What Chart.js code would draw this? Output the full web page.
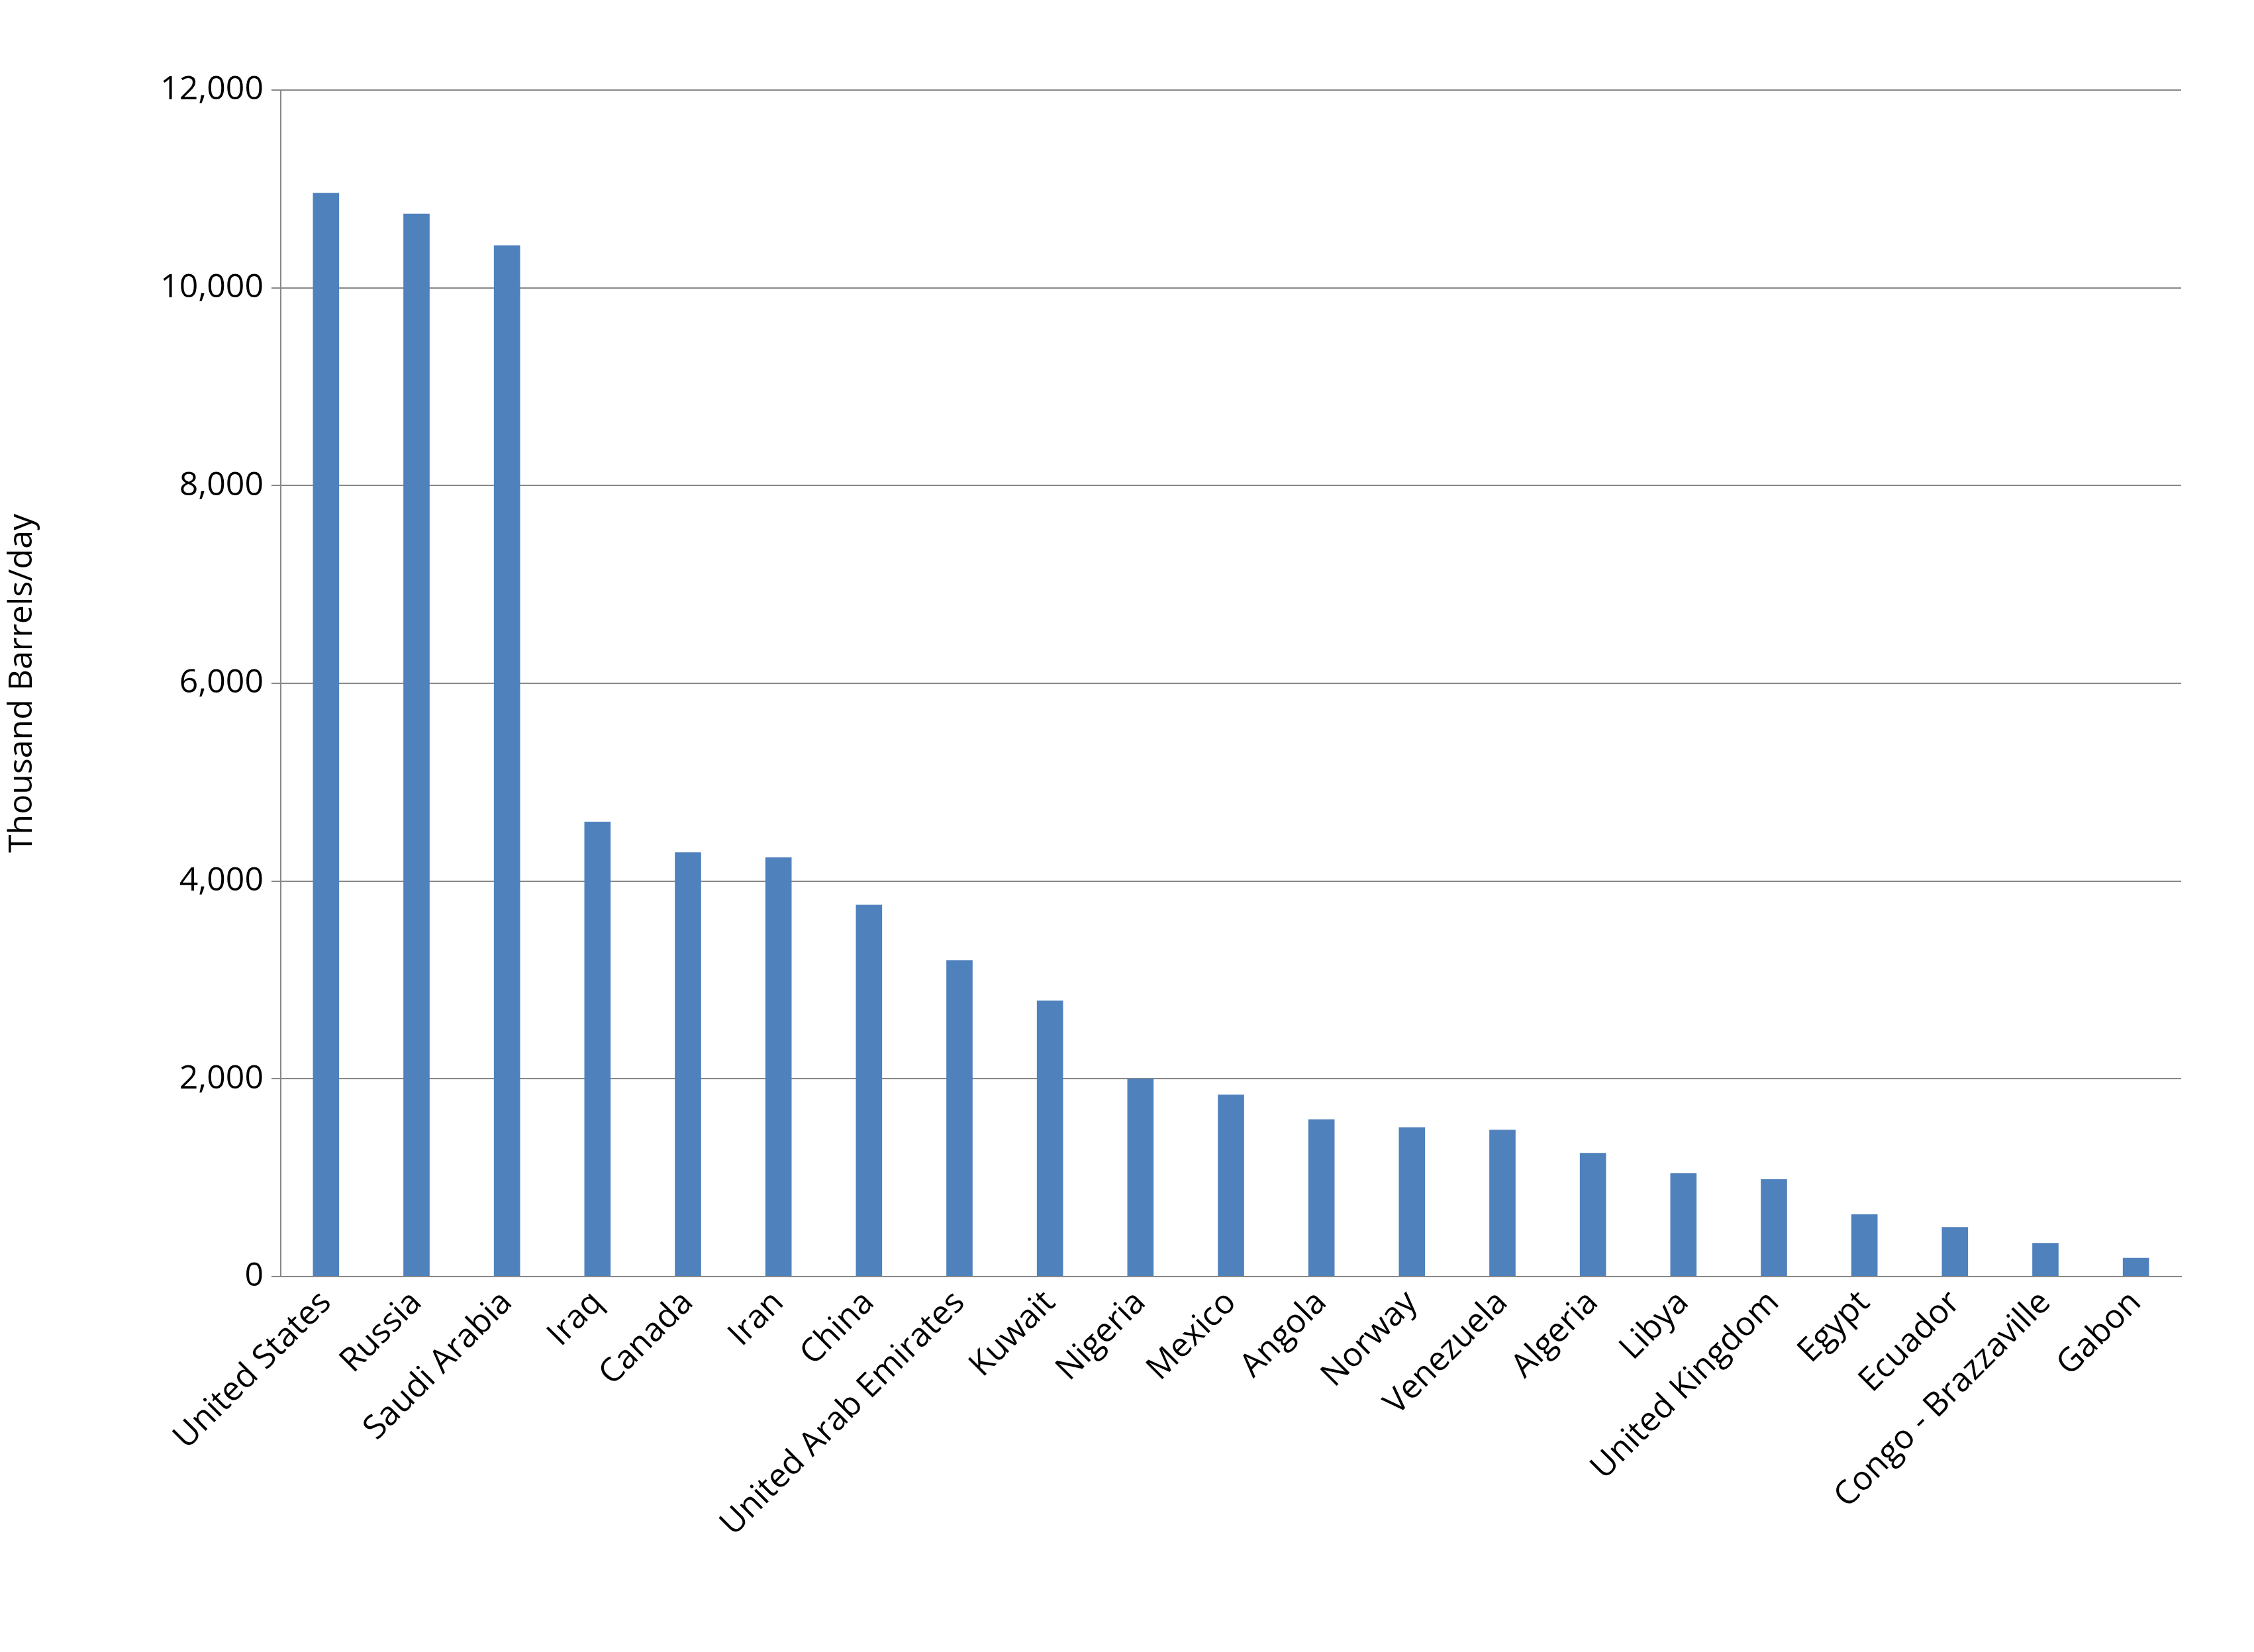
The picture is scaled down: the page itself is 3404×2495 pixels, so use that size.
<!DOCTYPE html>
<html>
<head>
<meta charset="utf-8">
<script src="https://cdn.jsdelivr.net/npm/chart.js@4"></script>
<style>body{margin:0;background:#fff}</style>
</head>
<body>
<canvas id="chart" width="3404" height="2495"></canvas>
<script>
const countries = ['United States', 'Russia', 'Saudi Arabia', 'Iraq', 'Canada', 'Iran', 'China', 'United Arab Emirates', 'Kuwait', 'Nigeria', 'Mexico', 'Angola', 'Norway', 'Venezuela', 'Algeria', 'Libya', 'United Kingdom', 'Egypt', 'Ecuador', 'Congo - Brazzaville', 'Gabon'];
const production = [10960, 10750, 10430, 4600, 4290, 4240, 3760, 3200, 2790, 2000, 1840, 1590, 1510, 1485, 1250, 1045, 985, 630, 500, 340, 190];
const yTicks = [0, 2000, 4000, 6000, 8000, 10000, 12000];

const font = {family: 'Open Sans, Liberation Sans, sans-serif', size: 50};
const ctx = document.getElementById('chart').getContext('2d');
new Chart(ctx, {
    type: 'bar',
    data: {
        labels: countries,
        datasets: [{
            data: production,
            backgroundColor: '#4f81bd',
            barPercentage: 0.29,
            categoryPercentage: 1
        }]
    },
    options: {
        responsive: false,
        animation: false,
        layout: {padding: {top: 136, right: 110, left: 0, bottom: 0}},
        plugins: {legend: {display: false}, tooltip: {enabled: false}},
        scales: {
            x: {
                grid: {display: false, drawTicks: false},
                border: {color: '#888', width: 2},
                ticks: {font: font, color: '#000', maxRotation: 45, minRotation: 45, padding: 10},
                afterFit: s => { s.height = 567; }
            },
            y: {
                min: 0, max: 12000,
                afterBuildTicks: s => { s.ticks = yTicks.map(v => ({value: v})); },
                grid: {color: '#888', lineWidth: 2, tickLength: 14},
                border: {color: '#888', width: 2},
                ticks: {font: font, color: '#000', padding: 12,
                    callback: v => v.toLocaleString('en-US')},
                title: {display: true, text: 'Thousand Barrels/day', font: font, color: '#000'},
                afterFit: s => { s.width = 424; }
            }
        }
    }
});
</script>
</body>
</html>
